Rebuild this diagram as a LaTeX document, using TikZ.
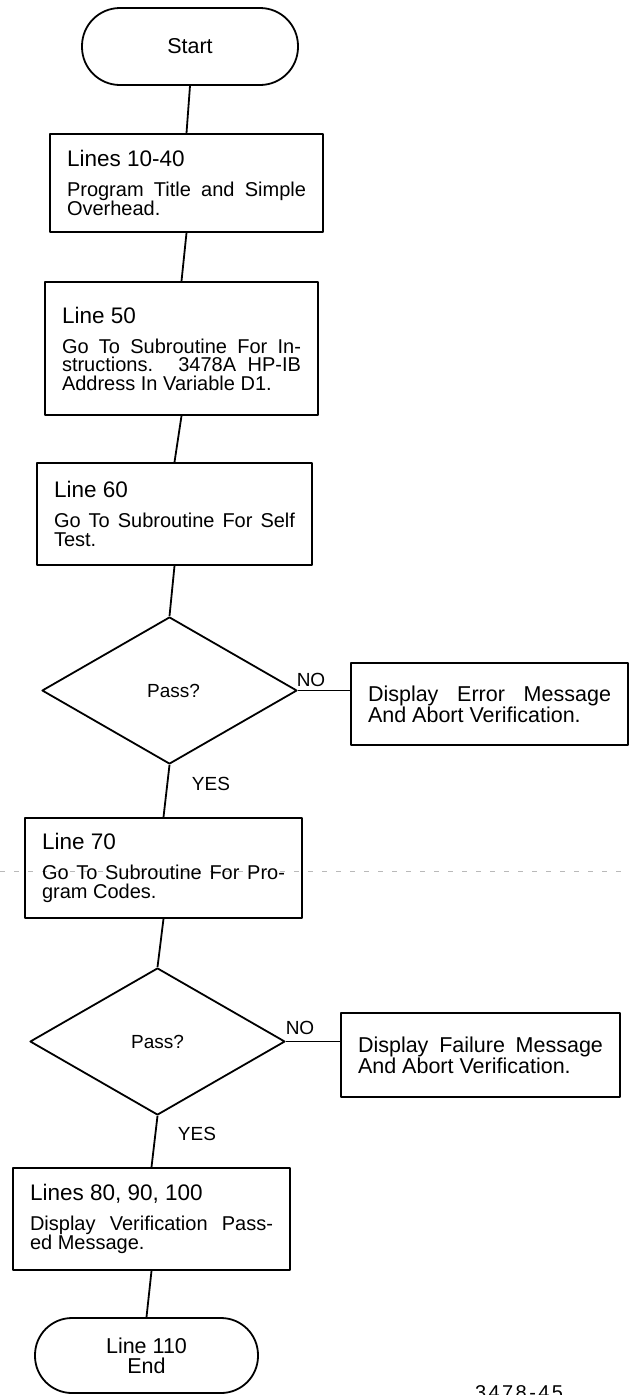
\documentclass[tikz,border=0pt]{standalone}
\usepackage{fontspec}
\setmainfont{Liberation Sans}
\usetikzlibrary{shapes.geometric}
\hbadness=10000
\tolerance=10000
\newcommand{\boxhead}[1]{{\fontsize{22.5}{18.5}\selectfont #1}}
\tikzset{
  flow/.style={draw=black, line width=1.8pt, line join=round},
  term/.style={flow, inner sep=0pt, align=center,
    font=\fontsize{21.5}{20}\selectfont},
  pbox/.style={flow, inner xsep=17pt, inner ysep=0pt, align=justify,
    font=\fontsize{20}{18.5}\selectfont},
  sbox/.style={pbox, font=\fontsize{21.5}{18.5}\selectfont},
  dec/.style={flow, diamond, inner sep=0pt, minimum width=255pt, minimum height=147pt,
    font=\fontsize{19}{20}\selectfont},
  conn/.style={draw=black, line width=1.8pt},
  lab/.style={font=\fontsize{19}{19}\selectfont, inner sep=0pt},
  fold/.style={draw=gray!55, line width=0.6pt, dash pattern=on 5pt off 9pt}
}
\begin{document}
\begin{tikzpicture}[x=1pt,y=1pt]
\useasboundingbox (0,0) rectangle (629,-1395);
% fold line of the scanned page
\coordinate (fl) at (0,-871);
\coordinate (fr) at (629,-871);
\draw[fold] (fl) -- (fr);

\node[term, rounded corners=38pt, minimum width=216pt, minimum height=77pt] (start) at (190,-46.5) {Start};

\node[pbox, text width=239pt, minimum height=98pt] (b1) at (186.5,-183)
  {\boxhead{Lines 10-40}\\[11.5pt]Program Title and Simple\linebreak Overhead.};

\node[pbox, text width=239pt, minimum height=133pt] (b2) at (181.5,-348.5)
  {\boxhead{Line 50}\\[11.5pt]Go To Subroutine For In-\linebreak structions. 3478A HP-IB\linebreak Address In Variable D1.};

\node[pbox, text width=241pt, minimum height=102pt] (b3) at (174.5,-514)
  {\boxhead{Line 60}\\[11.5pt]Go To Subroutine For Self\linebreak Test.};

\node[dec] (d1) at (169.5,-690.5) {\hspace*{8pt}Pass?};

\node[sbox, text width=243pt, minimum height=82pt] (err) at (489.5,-704)
  {Display Error Message\linebreak And Abort Verification.};

\node[pbox, text width=243pt, minimum height=100pt] (b4) at (163.5,-868)
  {\boxhead{Line 70}\\[11.5pt]Go To Subroutine For Pro-\linebreak gram Codes.};

\node[dec] (d2) at (157.5,-1041.5) {Pass?};

\node[sbox, text width=245pt, minimum height=84pt] (fail) at (480.5,-1055)
  {Display Failure Message\linebreak And Abort Verification.};

\node[pbox, text width=243pt, minimum height=102pt] (b5) at (151.5,-1219)
  {\boxhead{Lines 80, 90, 100}\\[11.5pt]Display Verification Pass-\linebreak ed Message.};

\node[term, rounded corners=37pt, minimum width=223pt, minimum height=75pt] (end) at (146.5,-1355.5)
  {Line 110\\End};

% connectors
\draw[conn] (start.south) -- (b1.north);
\draw[conn] (b1.south) -- (b2.north);
\draw[conn] (b2.south) -- (b3.north);
\draw[conn] (b3.south) -- (d1.north);
\draw[conn] (d1.east) -- (d1.east -| err.west);
\draw[conn] (d1.south) -- (b4.north);
\draw[conn] (b4.south) -- (d2.north);
\draw[conn] (d2.east) -- (d2.east -| fail.west);
\draw[conn] (d2.south) -- (b5.north);
\draw[conn] (b5.south) -- (end.north);

% labels
\node[lab] (no1) at (311,-680) {NO};
\node[lab] (yes1) at (211,-784) {YES};
\node[lab] (no2) at (300,-1028) {NO};
\node[lab] (yes2) at (197,-1134) {YES};
\node[lab, anchor=base west, font=\fontsize{20}{20}\selectfont\addfontfeature{LetterSpace=12}] (figno) at (475,-1399) {3478-45};
\end{tikzpicture}
\end{document}
